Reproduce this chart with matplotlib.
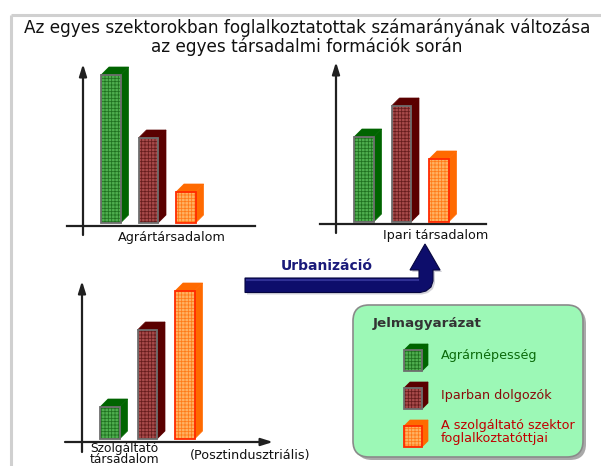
import matplotlib
matplotlib.use("Agg")
import matplotlib.pyplot as plt
from matplotlib.patches import Polygon, FancyBboxPatch, Rectangle

plt.rcParams["hatch.linewidth"] = 0.55

# ---- data (arbitrary height units) ----
sectors = ["Agrárnépesség", "Iparban dolgozók", "A szolgáltató szektor\nfoglalkoztatóttjai"]
agrar_values = [148, 85, 31]
ipari_values = [85, 116, 63]
szolg_values = [32, 109, 148]
panel_labels = ["Agrártársadalom", "Ipari társadalom", "Szolgáltató\ntársadalom"]
title_text = ("Az egyes szektorokban foglalkoztatottak számarányának változása\n"
              "az egyes társadalmi formációk során")
arrow_label = "Urbanizáció"
legend_title = "Jelmagyarázat"
post_label = "(Posztindusztriális)"

# styles per sector: (front fill, grid colour, border colour, side colour, text colour)
styles = [
    ("#4fae4f", "#1f701f", "#6e6e6e", "#006400", "#0a6a0a"),
    ("#a84a4a", "#661c1c", "#6e6e6e", "#5a0000", "#8a0a0a"),
    ("#ffb262", "#ff7a18", "#ff2a00", "#ff6a00", "#c00000"),
]

W, H = 601, 466
fig = plt.figure(figsize=(W / 100, H / 100), dpi=100)
fig.patch.set_facecolor("white")

bg = fig.add_axes([0, 0, 1, 1])
bg.set_xlim(0, W)
bg.set_ylim(H, 0)
bg.axis("off")

# frame
bg.plot([10.5, W], [14.5, 14.5], color="#d0d0d0", lw=2.2, solid_capstyle="butt")
bg.plot([10.5, 10.5], [14.5, H], color="#d0d0d0", lw=2.2, solid_capstyle="butt")

bg.text(307, 37, title_text, ha="center", va="center", fontsize=12.2,
        color="#111111", linespacing=1.0)

DEPTH = 8
BAR_W = 19.5
SMALL = 9.2


def panel(ox, oy, values, top_px, bot_px, hline, harrow=False):
    L, R = ox - 25, ox + 215
    T, B = oy - 175, oy + 30
    ax = fig.add_axes([L / W, 1 - B / H, (R - L) / W, (B - T) / H])
    ax.set_xlim(-25, 215)
    ax.set_ylim(-30, 175)
    ax.axis("off")
    ax.patch.set_alpha(0)
    ax.annotate("", xy=(0, oy - top_px), xytext=(0, oy - bot_px),
                arrowprops=dict(arrowstyle="-|>,head_length=0.7,head_width=0.22",
                                lw=1.6, color="#202020", shrinkA=0, shrinkB=0))
    x0, x1, yb = hline
    if harrow:
        ax.annotate("", xy=(x1, yb), xytext=(x0, yb),
                    arrowprops=dict(arrowstyle="-|>,head_length=0.7,head_width=0.22",
                                    lw=1.6, color="#202020", shrinkA=0, shrinkB=0))
    else:
        ax.plot([x0, x1], [yb, yb], color="#202020", lw=1.6)
    xs = [18 + 37.5 * i for i in range(len(values))]
    for x, v, st in zip(xs, values, styles):
        face, grid, border, side, _ = st
        d = DEPTH
        ax.add_patch(Polygon([(x + BAR_W, 0), (x + BAR_W + d, d), (x + BAR_W + d, v + d),
                              (x + BAR_W, v)], closed=True, facecolor=side,
                             edgecolor=side, lw=0.5, zorder=2))
        ax.add_patch(Polygon([(x, v), (x + d, v + d), (x + BAR_W + d, v + d),
                              (x + BAR_W, v)], closed=True, facecolor=side,
                             edgecolor=side, lw=0.5, zorder=2))
    ax.bar(xs, values, width=BAR_W, align="edge",
           color=[s[0] for s in styles], edgecolor=[s[1] for s in styles],
           hatch="+++++", linewidth=0, zorder=3)
    ax.bar(xs, values, width=BAR_W, align="edge", fill=False,
           edgecolor=[s[2] for s in styles], linewidth=1.3, zorder=4)
    return ax


panel(83, 223, agrar_values, 64, 235, (-16, 172, -3))
panel(336, 222, ipari_values, 62, 233, (-16, 150, -2))
panel(82, 439, szolg_values, 281, 452, (-17, 191, -3), harrow=True)

# panel labels
bg.text(172, 238, panel_labels[0], ha="center", va="center", fontsize=SMALL, color="#111111")
bg.text(383, 235, panel_labels[1], ha="left", va="center", fontsize=SMALL, color="#111111")
bg.text(90, 454, panel_labels[2], ha="left", va="center", fontsize=8.8,
        color="#111111", linespacing=0.8)
bg.text(190, 455, post_label, ha="left", va="center", fontsize=SMALL, color="#111111")

# Urbanization arrow
arrow_pts = [(245, 278), (419, 278), (419, 270), (410, 270), (425, 244),
             (440, 270), (433, 270), (433, 281), (431, 287), (426, 291),
             (420, 292.5), (245, 292.5)]
shadow_pts = [(x + 2, y + 2) for x, y in arrow_pts]
bg.add_patch(Polygon(shadow_pts, closed=True, facecolor="#9090a0", edgecolor="none", alpha=0.4))
bg.add_patch(Polygon(arrow_pts, closed=True, facecolor="#0d0d6b", edgecolor="#060640", lw=0.8))
bg.plot([247, 418], [280, 280], color="#3a3aa0", lw=1.5, alpha=0.8)
bg.text(327, 266, arrow_label, ha="center", va="center", fontsize=10.0,
        fontweight="bold", color="#1a1a7a")

# Legend box
bg.add_patch(FancyBboxPatch((356, 308), 230, 152,
                            boxstyle="round,pad=0,rounding_size=16",
                            facecolor="#707070", edgecolor="none", alpha=0.6))
bg.add_patch(FancyBboxPatch((353, 305), 230, 152,
                            boxstyle="round,pad=0,rounding_size=16",
                            facecolor="#9cf8b6", edgecolor="#8a8a8a", lw=1.2))
bg.text(373, 324, legend_title, ha="left", va="center", fontsize=9.7,
        fontweight="bold", color="#333333")

cube_tops = [350, 388, 426]
text_ys = [356, 395, 432]
for (face, grid, border, side, tcol), cy, ty, name in zip(styles, cube_tops, text_ys, sectors):
    cx, cw, ch, d = 404, 18, 21, 6
    bg.add_patch(Polygon([(cx, cy), (cx + d, cy - d), (cx + cw + d, cy - d), (cx + cw, cy)],
                         closed=True, facecolor=side, edgecolor=side, lw=0.5))
    bg.add_patch(Polygon([(cx + cw, cy), (cx + cw + d, cy - d), (cx + cw + d, cy + ch - d),
                          (cx + cw, cy + ch)], closed=True, facecolor=side, edgecolor=side, lw=0.5))
    bg.add_patch(Rectangle((cx, cy), cw, ch, facecolor=face, edgecolor=grid,
                           hatch="+++++", lw=0))
    bg.add_patch(Rectangle((cx, cy), cw, ch, fill=False, edgecolor=border, lw=1.3))
    bg.text(441, ty, name, ha="left", va="center", fontsize=SMALL, color=tcol,
            linespacing=0.95)

fig.savefig("out.png", dpi=100)
